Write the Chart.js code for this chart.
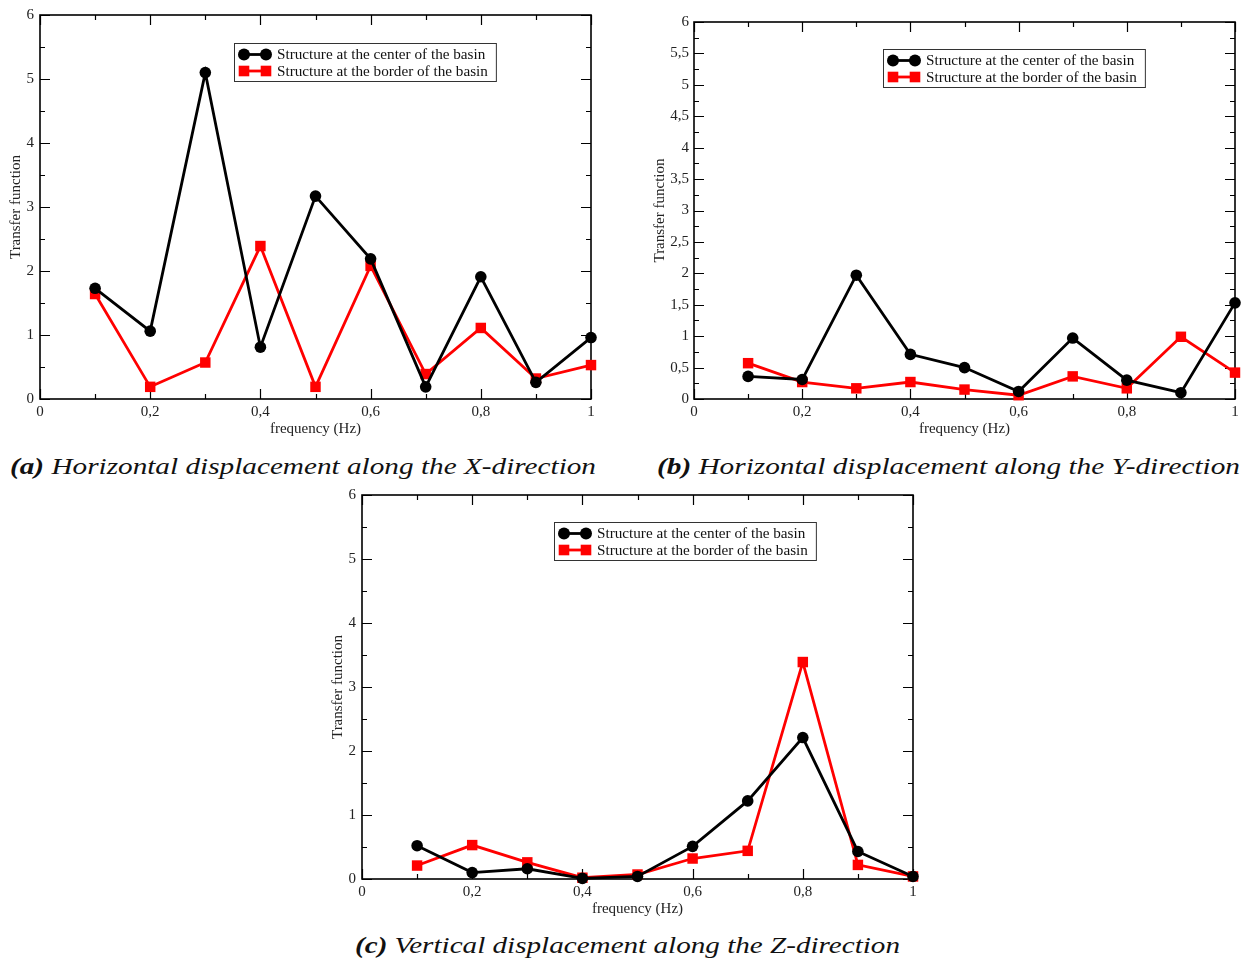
<!DOCTYPE html>
<html><head><meta charset="utf-8">
<script src="https://cdn.jsdelivr.net/npm/chart.js@4.4.0/dist/chart.umd.min.js"></script>
<style>
html,body{margin:0;padding:0;background:#fff}
body{width:1247px;height:963px;position:relative;overflow:hidden}
canvas{position:absolute}
.cap{position:absolute;font-family:"Liberation Serif","DejaVu Serif",serif;font-style:italic;font-size:24px;white-space:nowrap;color:#111;line-height:1;transform-origin:0 50%}
.cap b{font-weight:bold}
</style></head><body>
<canvas id="ca" width="600" height="440" style="left:0px;top:0px"></canvas>
<canvas id="cb" width="597" height="440" style="left:650px;top:0px"></canvas>
<canvas id="cc" width="600" height="440" style="left:322px;top:480px"></canvas>
<div class="cap" id="capA" data-w="586" style="left:10px;top:454px"><b>(a)</b> Horizontal displacement along the X-direction</div>
<div class="cap" id="capB" data-w="583" style="left:657px;top:454px"><b>(b)</b> Horizontal displacement along the Y-direction</div>
<div class="cap" id="capC" data-w="545" style="left:355px;top:933px"><b>(c)</b> Vertical displacement along the Z-direction</div>
<script>
// ---- data ----
const frequencies = [0.1, 0.2, 0.3, 0.4, 0.5, 0.6, 0.7, 0.8, 0.9, 1.0];
const xCenter = [1.73, 1.06, 5.10, 0.81, 3.17, 2.19, 0.19, 1.91, 0.26, 0.96];
const xBorder = [1.64, 0.19, 0.57, 2.39, 0.19, 2.08, 0.39, 1.11, 0.32, 0.53];
const yCenter = [0.36, 0.31, 1.97, 0.71, 0.50, 0.12, 0.97, 0.30, 0.10, 1.53];
const yBorder = [0.57, 0.27, 0.17, 0.27, 0.15, 0.06, 0.36, 0.17, 0.99, 0.42];
const zCenter = [0.52, 0.10, 0.16, 0.01, 0.04, 0.51, 1.22, 2.21, 0.43, 0.04];
const zBorder = [0.21, 0.53, 0.26, 0.02, 0.07, 0.32, 0.44, 3.39, 0.22, 0.04];
const seriesLabels = ['Structure at the center of the basin', 'Structure at the border of the basin'];
const xAxisTitle = 'frequency (Hz)';
const yAxisTitle = 'Transfer function';
const xTickLabels = ['0', '0,2', '0,4', '0,6', '0,8', '1'];   // every 0.2
const yTickLabelsInt = ['0', '1', '2', '3', '4', '5', '6'];    // every 1
const yTickLabelsHalf = ['0', '0,5', '1', '1,5', '2', '2,5', '3', '3,5', '4', '4,5', '5', '5,5', '6']; // every 0.5

const SERIF = '"Liberation Serif", "DejaVu Serif", serif';
const tickFont = {family: SERIF, size: 15};

function pts(vals){ return frequencies.map((f,i)=>({x:f, y:vals[i]})); }

const framePlugin = {
  id: 'frame',
  beforeDatasetsDraw(chart, args, opts){
    const {ctx, chartArea:a, scales:{x, y}} = chart;
    ctx.save();
    ctx.strokeStyle = '#000';
    ctx.lineWidth = 1.2;
    const xq = opts.xMajor, yq = opts.yMajor;
    x.ticks.forEach(t => {
      const px = Math.round(x.getPixelForValue(t.value)) + 0.5;
      const maj = Math.abs(t.value/xq - Math.round(t.value/xq)) < 1e-6;
      const L = maj ? 10 : 5;
      ctx.beginPath();
      ctx.moveTo(px, a.bottom); ctx.lineTo(px, a.bottom - L);
      ctx.moveTo(px, a.top); ctx.lineTo(px, a.top + L);
      ctx.stroke();
    });
    y.ticks.forEach(t => {
      const py = Math.round(y.getPixelForValue(t.value)) + 0.5;
      const maj = Math.abs(t.value/yq - Math.round(t.value/yq)) < 1e-6;
      const L = maj ? 10 : 5;
      ctx.beginPath();
      ctx.moveTo(a.left, py); ctx.lineTo(a.left + L, py);
      ctx.moveTo(a.right, py); ctx.lineTo(a.right - L, py);
      ctx.stroke();
    });
    ctx.lineWidth = 1.6;
    ctx.strokeRect(a.left, a.top, a.right - a.left, a.bottom - a.top);
    ctx.restore();
  }
};

const legendPlugin = {
  id: 'boxLegend',
  afterDatasetsDraw(chart, args, opts){
    const {ctx, chartArea:a} = chart;
    const left = a.left + opts.dx, top = a.top + opts.dy;
    ctx.save();
    ctx.font = '15.2px ' + SERIF;
    const sets = chart.data.datasets;
    let tw = 0;
    sets.forEach(d => { tw = Math.max(tw, ctx.measureText(d.label).width); });
    const w = 43 + tw + 8, h = 38;
    ctx.fillStyle = '#fff';
    ctx.fillRect(left, top, w, h);
    ctx.strokeStyle = '#333'; ctx.lineWidth = 1;
    ctx.strokeRect(left + 0.5, top + 0.5, w, h);
    sets.forEach((d, i) => {
      const cy = top + 11.5 + i * 16.5;
      const x1 = left + 10, x2 = left + 32;
      ctx.strokeStyle = d.borderColor; ctx.lineWidth = d.borderWidth;
      ctx.beginPath(); ctx.moveTo(x1, cy); ctx.lineTo(x2, cy); ctx.stroke();
      ctx.fillStyle = d.pointBackgroundColor;
      [x1, x2].forEach(px => {
        if (d.pointStyle === 'rect') { ctx.fillRect(px - 5.3, cy - 5.3, 10.6, 10.6); }
        else { ctx.beginPath(); ctx.arc(px, cy, 6, 0, Math.PI*2); ctx.fill(); }
      });
      ctx.fillStyle = '#111';
      ctx.textBaseline = 'middle';
      ctx.fillText(d.label, left + 43, cy + 1);
    });
    ctx.restore();
  }
};

function makeChart(id, center, border, cfg){
  const ds = (label, vals, color, style, r) => ({
    label, data: pts(vals), borderColor: color, backgroundColor: color,
    pointBackgroundColor: color, pointBorderColor: color, pointBorderWidth: 0,
    borderWidth: 2.8, pointStyle: style, pointRadius: r, pointHoverRadius: r,
    tension: 0, clip: false
  });
  return new Chart(document.getElementById(id), {
    type: 'line',
    data: { datasets: [
      ds(seriesLabels[0], center, '#000000', 'circle', 5.8),
      ds(seriesLabels[1], border, '#ff0000', 'rect', 7.4)
    ]},
    options: {
      responsive: false, animation: false, devicePixelRatio: 1,
      layout: { padding: { top: cfg.padTop, right: cfg.padRight, left: 0, bottom: 0 } },
      plugins: {
        legend: { display: false }, tooltip: { enabled: false },
        frame: { xMajor: 0.2, yMajor: cfg.yMajor },
        boxLegend: { dx: cfg.legDx, dy: cfg.legDy }
      },
      scales: {
        x: {
          type: 'linear', min: 0, max: 1,
          grid: { display: false, drawTicks: false }, border: { display: false },
          ticks: { stepSize: 0.1, autoSkip: false, maxRotation: 0, padding: 4, color: '#222', font: tickFont,
            callback: v => { const k = Math.round(v * 10); return k % 2 === 0 ? xTickLabels[k/2] : ''; } },
          title: { display: true, text: xAxisTitle, color: '#222', font: tickFont, padding: { top: 0, bottom: 2 } },
          afterFit: s => { s.height = 41; }
        },
        y: {
          type: 'linear', min: 0, max: 6,
          grid: { display: false, drawTicks: false }, border: { display: false },
          ticks: { stepSize: cfg.yStep, autoSkip: false, padding: cfg.yTickPad, color: '#222', font: tickFont,
            callback: v => {
              const k = Math.round(v / cfg.yMajor);
              if (Math.abs(v / cfg.yMajor - k) > 1e-6) return '';
              return cfg.yLabels[k];
            } },
          title: { display: true, text: yAxisTitle, color: '#222', font: tickFont, padding: { top: cfg.yTitlePad, bottom: 0 } },
          afterFit: s => { s.width = cfg.yWidth; }
        }
      }
    },
    plugins: [framePlugin, legendPlugin]
  });
}

makeChart('ca', xCenter, xBorder, { padTop: 14, padRight: 9, yWidth: 40, yStep: 0.5, yMajor: 1, yLabels: yTickLabelsInt, yTickPad: 6, yTitlePad: 7, legDx: 194, legDy: 28 });
makeChart('cb', yCenter, yBorder, { padTop: 22, padRight: 12, yWidth: 44, yStep: 0.25, yMajor: 0.5, yLabels: yTickLabelsHalf, yTickPad: 5, yTitlePad: 1, legDx: 189, legDy: 27 });
makeChart('cc', zCenter, zBorder, { padTop: 14, padRight: 9, yWidth: 40, yStep: 0.5, yMajor: 1, yLabels: yTickLabelsInt, yTickPad: 6, yTitlePad: 7, legDx: 192, legDy: 27 });

document.querySelectorAll('.cap').forEach(el => {
  const target = +el.dataset.w;
  const w = el.getBoundingClientRect().width;
  el.style.transform = 'scaleX(' + (target / w).toFixed(4) + ')';
});
</script>
</body></html>
